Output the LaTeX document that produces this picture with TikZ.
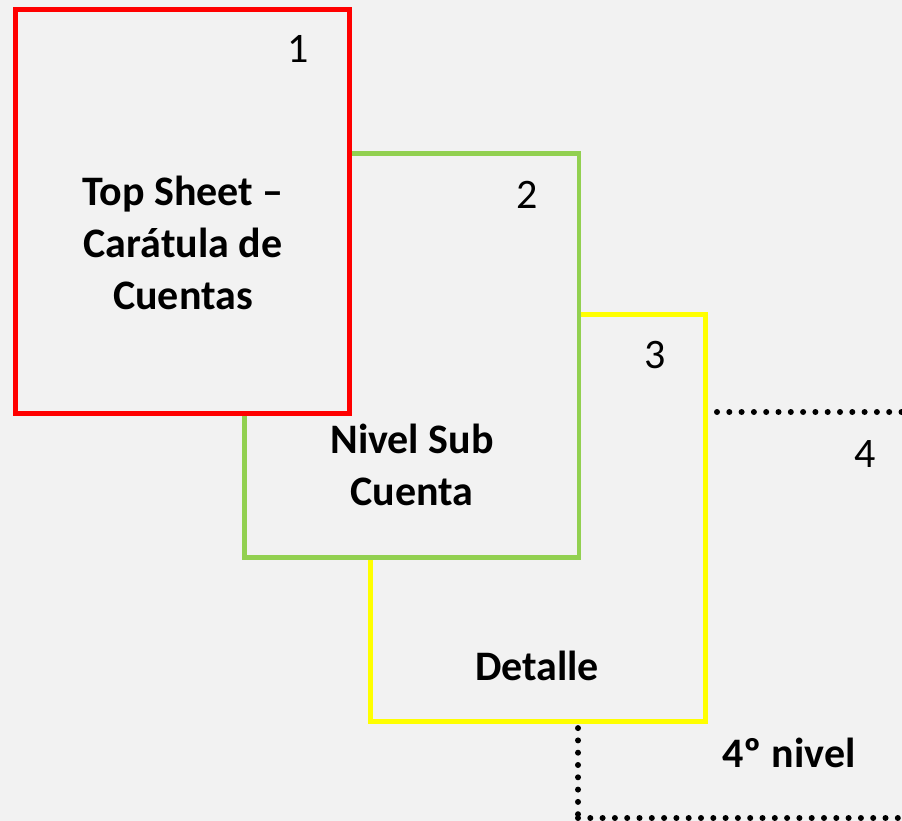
\documentclass[tikz,border=0pt]{standalone}
\usepackage{fontspec}
\setmainfont{Carlito}
\definecolor{bg}{HTML}{F2F2F2}
\definecolor{sheetred}{HTML}{FF0000}
\definecolor{sheetgreen}{HTML}{92D050}
\definecolor{sheetyellow}{HTML}{FFFF00}
\begin{document}
\begin{tikzpicture}[x=1pt,y=-1pt,
  sheet/.style={line width=5pt, fill=bg, inner sep=0pt, outer sep=0pt, anchor=north west, rectangle},
  title/.style={font=\fontsize{42}{52}\selectfont\bfseries, align=center, anchor=base, inner sep=0pt},
  num/.style={font=\fontsize{42}{52}\selectfont, anchor=base, inner sep=0pt},
  dots/.style={line width=6pt, line cap=round, dash pattern=on 0pt off 12.3pt}]
\fill[bg] (0,0) rectangle (902,821);
\useasboundingbox (0,0) rectangle (902,821);
% fourth sheet (dotted, mostly hidden)
\begin{scope}
\clip (0,0) rectangle (902,821);
\node[sheet, draw=black, dots, fill=none, minimum width=420pt, minimum height=406pt] (s4) at (578,412) {};
\end{scope}
% third, second, first sheets
\node[sheet, draw=sheetyellow, minimum width=335pt, minimum height=407pt] (s3) at (370,314) {};
\node[sheet, draw=sheetgreen, line width=4.5pt, minimum width=334.5pt, minimum height=404pt] (s2) at (244.5,153.5) {};
\node[sheet, draw=sheetred, minimum width=334pt, minimum height=403.5pt] (s1) at (15,9.5) {};
% numbers
\node[num] (n1) at (298,63) {1};
\node[num] (n2) at (527,208) {2};
\node[num] (n3) at (655,368) {3};
\node[num] (n4) at (865,467) {4};
% titles (base = baseline of last line)
\node[title] (t1) at (183,309) {Top Sheet –\\Carátula de\\Cuentas};
\node[title] (t2) at (412,505) {Nivel Sub\\Cuenta};
\node[title] (t3) at (537,680) {Detalle};
\node[title] (t4) at (789,767) {4º nivel};
\end{tikzpicture}
\end{document}
